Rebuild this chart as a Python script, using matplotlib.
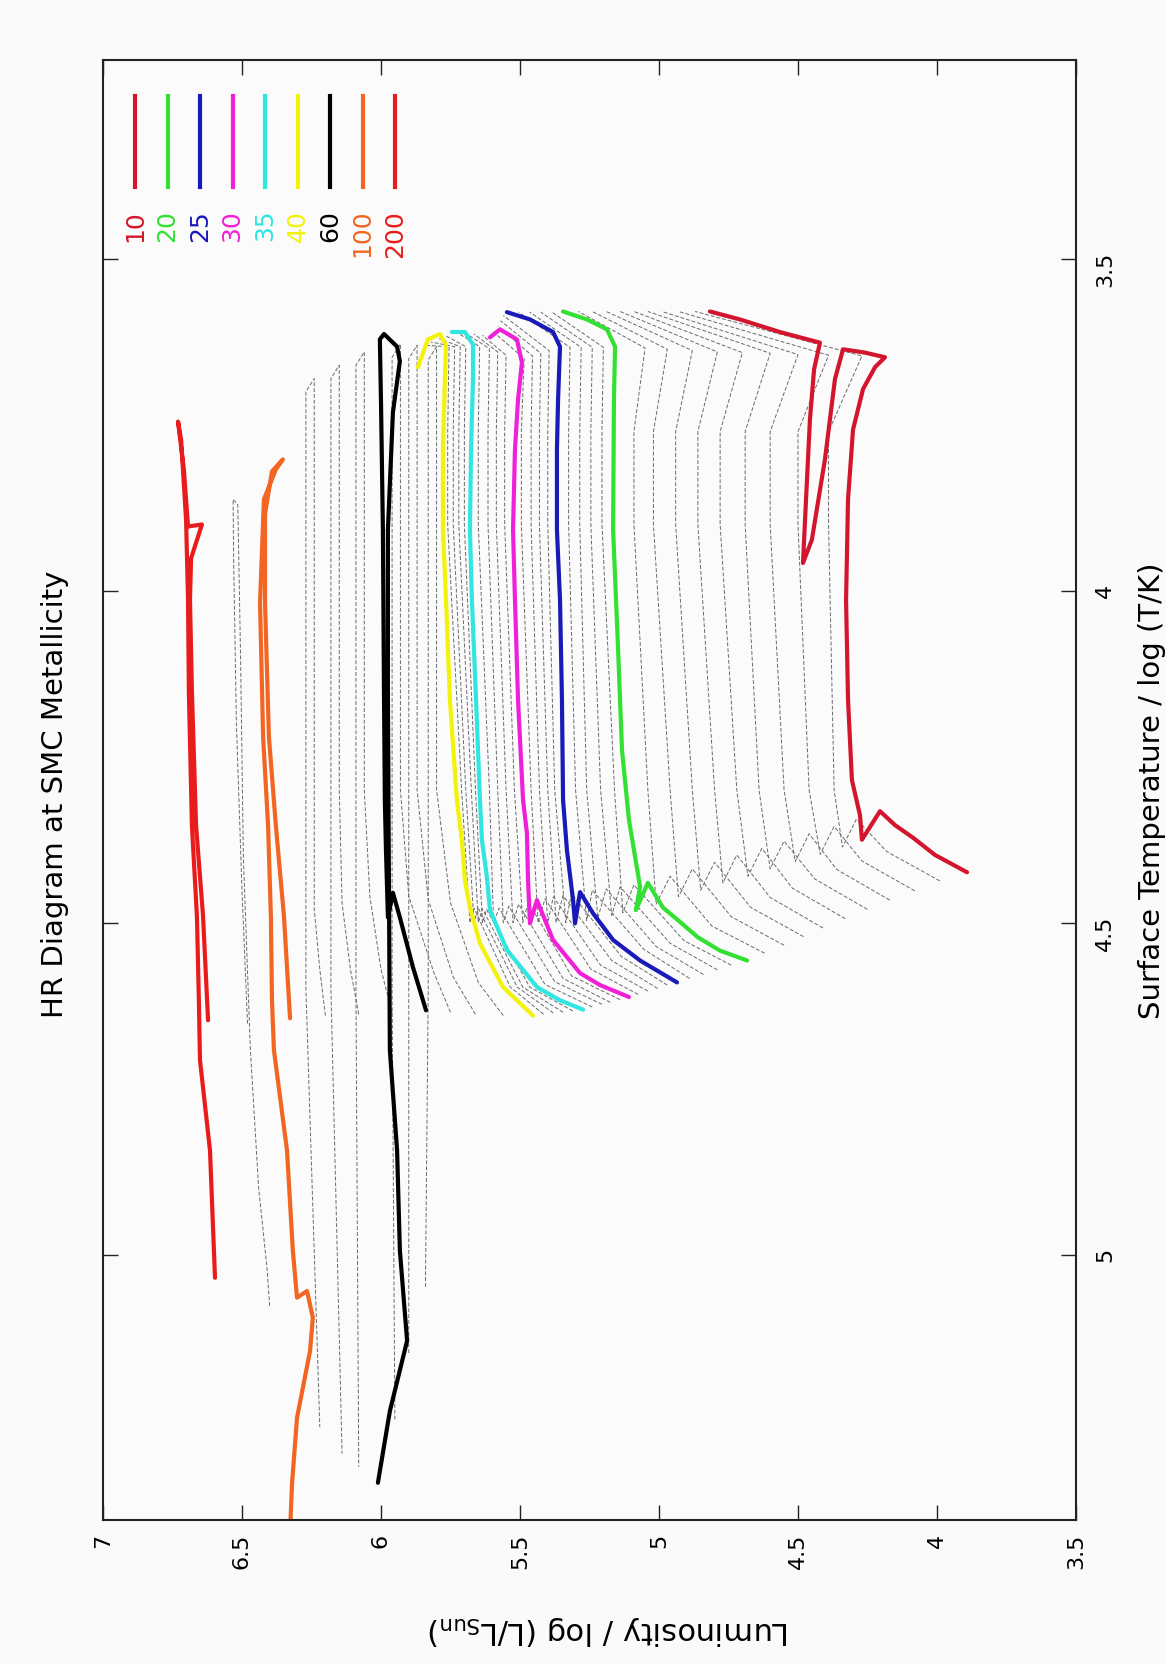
import matplotlib
matplotlib.use('Agg')
import matplotlib.pyplot as plt

plt.rcParams['font.family'] = ['DejaVu Sans']
plt.rcParams['mathtext.default'] = 'regular'

# axis ticks (luminosity runs along the page, temperature down the page)
lum_ticks = [7, 6.5, 6, 5.5, 5, 4.5, 4, 3.5]
lum_labels = ['7', '6.5', '6', '5.5', '5', '4.5', '4', '3.5']
temp_ticks = [3.5, 4, 4.5, 5]
temp_labels = ['3.5', '4', '4.5', '5']

# highlighted masses
masses = ['10', '20', '25', '30', '35', '40', '60', '100', '200']
colors = ['#d3152e', '#33e033', '#1a1ab8', '#f020d8', '#30e6e0',
          '#f2f20a', '#000000', '#f26522', '#e81c1c']

# highlighted tracks: log L, log T
trk10_L = [3.892, 4.007, 4.086, 4.151, 4.205, 4.270, 4.277, 4.306, 4.320, 4.327,
           4.320, 4.302, 4.266, 4.223, 4.187, 4.259, 4.338, 4.367, 4.403, 4.450,
           4.482, 4.471, 4.457, 4.442, 4.421, 4.565, 4.709, 4.817]
trk10_T = [4.424, 4.398, 4.372, 4.353, 4.332, 4.375, 4.338, 4.285, 4.164, 4.014,
           3.862, 3.757, 3.696, 3.663, 3.648, 3.641, 3.636, 3.681, 3.802, 3.923,
           3.958, 3.862, 3.742, 3.666, 3.626, 3.610, 3.591, 3.579]
trk20_L = [4.683, 4.781, 4.860, 4.924, 4.986, 5.040, 5.083, 5.068, 5.108, 5.133,
           5.147, 5.165, 5.162, 5.158, 5.187, 5.259, 5.345]
trk20_T = [4.557, 4.542, 4.522, 4.499, 4.477, 4.440, 4.481, 4.446, 4.345, 4.240,
           4.089, 3.908, 3.712, 3.632, 3.606, 3.591, 3.579]
trk25_L = [4.935, 5.068, 5.165, 5.237, 5.284, 5.302, 5.309, 5.331, 5.345, 5.349,
           5.356, 5.367, 5.367, 5.363, 5.356, 5.381, 5.464, 5.547]
trk25_T = [4.590, 4.557, 4.526, 4.486, 4.454, 4.501, 4.466, 4.391, 4.315, 4.164,
           4.013, 3.908, 3.787, 3.712, 3.632, 3.610, 3.591, 3.580]
trk30_L = [5.108, 5.212, 5.284, 5.381, 5.439, 5.464, 5.471, 5.475, 5.489, 5.507,
           5.518, 5.525, 5.518, 5.507, 5.493, 5.511, 5.572, 5.608]
trk30_T = [4.612, 4.594, 4.576, 4.526, 4.466, 4.501, 4.436, 4.365, 4.315, 4.164,
           4.013, 3.908, 3.787, 3.712, 3.656, 3.621, 3.606, 3.618]
trk35_L = [5.273, 5.356, 5.439, 5.547, 5.608, 5.619, 5.637, 5.644, 5.658, 5.673,
           5.680, 5.676, 5.669, 5.669, 5.698, 5.745]
trk35_T = [4.631, 4.617, 4.597, 4.541, 4.481, 4.431, 4.375, 4.315, 4.164, 4.013,
           3.908, 3.787, 3.681, 3.629, 3.610, 3.610]
trk40_L = [5.453, 5.561, 5.644, 5.680, 5.698, 5.709, 5.727, 5.752, 5.766, 5.777,
           5.777, 5.770, 5.766, 5.788, 5.831, 5.867]
trk40_T = [4.640, 4.597, 4.531, 4.477, 4.436, 4.375, 4.315, 4.164, 4.013, 3.908,
           3.787, 3.681, 3.629, 3.613, 3.621, 3.663]
trk60_L = [5.838, 5.885, 5.932, 5.957, 5.975, 5.982, 5.986, 5.989, 5.993, 6.000,
           6.004, 5.989, 5.942, 5.932, 5.957, 5.975, 5.975, 5.971, 5.968, 5.942,
           5.932, 5.906, 5.968, 6.011]
trk60_T = [4.632, 4.567, 4.492, 4.455, 4.492, 4.391, 4.315, 4.164, 3.908, 3.712,
           3.621, 3.613, 3.632, 3.654, 3.731, 3.908, 4.164, 4.466, 4.692, 4.843,
           4.994, 5.130, 5.236, 5.344]
trk100_L = [6.327, 6.349, 6.378, 6.403, 6.417, 6.417, 6.392, 6.353, 6.378, 6.421,
            6.435, 6.424, 6.406, 6.396, 6.392, 6.385, 6.338, 6.317, 6.302, 6.266,
            6.245, 6.255, 6.302, 6.320, 6.327]
trk100_T = [4.644, 4.490, 4.354, 4.220, 4.018, 3.884, 3.820, 3.802, 3.817, 3.862,
            4.018, 4.220, 4.354, 4.490, 4.617, 4.692, 4.843, 4.994, 5.065, 5.055,
            5.095, 5.145, 5.246, 5.346, 5.417]
trk200_L = [6.622, 6.640, 6.665, 6.680, 6.687, 6.683, 6.644, 6.694, 6.709, 6.730,
            6.719, 6.701, 6.694, 6.691, 6.680, 6.662, 6.655, 6.651, 6.615, 6.597]
trk200_T = [4.647, 4.490, 4.354, 4.152, 4.013, 3.951, 3.900, 3.903, 3.817, 3.745,
            3.772, 3.893, 4.013, 4.152, 4.354, 4.490, 4.617, 4.707, 4.843, 5.035]

tracks_L = [trk10_L, trk20_L, trk25_L, trk30_L, trk35_L, trk40_L, trk60_L, trk100_L, trk200_L]
tracks_T = [trk10_T, trk20_T, trk25_T, trk30_T, trk35_T, trk40_T, trk60_T, trk100_T, trk200_T]

# grey tracks 11-19, 21-24, 26-29, 31-34, 36-39 Msun
# zams -> mid main sequence -> hook -> dip -> crossing -> top corner -> end
g_zL = [3.99, 4.08, 4.17, 4.25, 4.33, 4.41, 4.48, 4.55, 4.62,
        4.74, 4.79, 4.84, 4.89, 4.97, 5.005, 5.04, 5.075,
        5.14, 5.175, 5.205, 5.24, 5.31, 5.345, 5.38, 5.415]
g_zT = [4.437, 4.452, 4.466, 4.48, 4.494, 4.508, 4.521, 4.534, 4.546,
        4.564, 4.571, 4.578, 4.584, 4.594, 4.599, 4.603, 4.608,
        4.616, 4.62, 4.623, 4.627, 4.633, 4.635, 4.636, 4.638]
g_mL = [4.18, 4.27, 4.36, 4.44, 4.52, 4.60, 4.67, 4.74, 4.81,
        4.91, 4.96, 5.01, 5.055, 5.135, 5.17, 5.21, 5.245,
        5.315, 5.345, 5.375, 5.41, 5.465, 5.49, 5.51, 5.535]
g_mT = [4.393, 4.407, 4.42, 4.434, 4.448, 4.462, 4.477, 4.491, 4.505,
        4.527, 4.531, 4.536, 4.54, 4.551, 4.557, 4.564, 4.57,
        4.58, 4.584, 4.589, 4.593, 4.597, 4.597, 4.597, 4.597]
g_hL = [4.29, 4.37, 4.46, 4.55, 4.63, 4.72, 4.80, 4.88, 4.96,
        5.09, 5.14, 5.19, 5.24, 5.315, 5.345, 5.38, 5.41,
        5.47, 5.505, 5.54, 5.575, 5.62, 5.635, 5.65, 5.665]
g_hT = [4.344, 4.355, 4.366, 4.377, 4.388, 4.398, 4.409, 4.419, 4.43,
        4.443, 4.446, 4.449, 4.451, 4.456, 4.459, 4.461, 4.464,
        4.469, 4.472, 4.475, 4.478, 4.48, 4.479, 4.478, 4.478]
g_dL = [4.34, 4.42, 4.51, 4.60, 4.68, 4.77, 4.85, 4.93, 5.01,
        5.13, 5.17, 5.22, 5.26, 5.335, 5.37, 5.40, 5.435,
        5.49, 5.525, 5.56, 5.595, 5.635, 5.65, 5.665, 5.68]
g_dT = [4.386, 4.397, 4.408, 4.419, 4.43, 4.44, 4.451, 4.461, 4.472,
        4.485, 4.489, 4.493, 4.497, 4.5, 4.5, 4.5, 4.5,
        4.5, 4.5, 4.5, 4.5, 4.5, 4.5, 4.5, 4.5]
g_c1L = [4.37, 4.46, 4.55, 4.64, 4.72, 4.80, 4.88, 4.96, 5.04,
         5.16, 5.21, 5.26, 5.30, 5.375, 5.40, 5.43, 5.46,
         5.52, 5.55, 5.58, 5.61, 5.66, 5.675, 5.695, 5.71]
g_c2L = [4.39, 4.50, 4.60, 4.69, 4.78, 4.86, 4.94, 5.02, 5.09,
         5.205, 5.245, 5.285, 5.325, 5.40, 5.43, 5.46, 5.495,
         5.555, 5.585, 5.615, 5.65, 5.70, 5.72, 5.74, 5.76]
g_kL = [4.27, 4.39, 4.50, 4.60, 4.70, 4.79, 4.88, 4.97, 5.05,
        5.20, 5.24, 5.28, 5.32, 5.395, 5.425, 5.455, 5.485,
        5.55, 5.58, 5.61, 5.645, 5.695, 5.715, 5.735, 5.755]
g_kT = [3.646, 3.645, 3.644, 3.642, 3.641, 3.64, 3.638, 3.636, 3.634,
        3.633, 3.633, 3.633, 3.633, 3.638, 3.642, 3.646, 3.65,
        3.645, 3.64, 3.635, 3.632, 3.632, 3.632, 3.632, 3.632]
g_eL = [4.87, 4.93, 4.99, 5.04, 5.09, 5.14, 5.19, 5.24, 5.29,
        5.385, 5.425, 5.465, 5.505, 5.56, 5.57, 5.58, 5.595,
        5.635, 5.665, 5.695, 5.725, 5.77, 5.79, 5.82, 5.845]
g_eT = [3.579, 3.579, 3.579, 3.579, 3.579, 3.579, 3.579, 3.579, 3.579,
        3.58, 3.58, 3.58, 3.58, 3.585, 3.593, 3.601, 3.61,
        3.615, 3.613, 3.612, 3.611, 3.615, 3.62, 3.625, 3.63]
cross_T = [4.30, 3.90, 3.76]

# grey tracks 45, 50, 55, 70, 80, 90 Msun: out to the red side and back to WR stage
w_zL = [5.56, 5.66, 5.75, 5.96, 6.08, 6.20]
w_zT = [4.64, 4.638, 4.635, 4.636, 4.638, 4.64]
w_mL = [5.65, 5.74, 5.81, 6.00, 6.11, 6.22]
w_mT = [4.59, 4.582, 4.575, 4.57, 4.57, 4.57]
w_hL = [5.75, 5.83, 5.90, 6.04, 6.14, 6.24]
w_hT = [4.47, 4.465, 4.46, 4.46, 4.47, 4.48]
w_cL = [5.80, 5.87, 5.93, 6.06, 6.15, 6.24]
w_tT = [3.632, 3.63, 3.628, 3.64, 3.66, 3.68]
w_rL = [5.83, 5.90, 5.96, 6.09, 6.18, 6.27]
w_rT = [3.652, 3.65, 3.648, 3.66, 3.68, 3.70]
w_endL = [5.84, 5.90, 5.95, 6.08, 6.14, 6.22]
w_endT = [5.05, 5.15, 5.25, 5.32, 5.30, 5.26]
w_cross_T = [4.30, 3.90, 4.60]

# grey track 150 Msun
g150_L = [6.48, 6.50, 6.52, 6.53, 6.532, 6.515, 6.505, 6.495, 6.47, 6.44, 6.41, 6.40]
g150_T = [4.652, 4.45, 4.2, 3.95, 3.862, 3.87, 4.1, 4.4, 4.69, 4.9, 5.02, 5.08]

fig = plt.figure(figsize=(11.66, 16.65), dpi=100, facecolor='#fafafa')
ax = fig.add_axes([0.0883, 0.0865, 0.8345, 0.8769], facecolor='#fbfbfb')

grey = dict(color='#6a6a6a', lw=0.7, linestyle=(0, (4, 2)))

for i in range(len(g_zL)):
    L = [g_zL[i], g_mL[i], g_hL[i], g_dL[i], g_c1L[i], g_c2L[i], g_c2L[i], g_kL[i], g_eL[i]]
    T = [g_zT[i], g_mT[i], g_hT[i], g_dT[i], cross_T[0], cross_T[1], cross_T[2], g_kT[i], g_eT[i]]
    ax.plot(L, T, **grey)

for i in range(len(w_zL)):
    L = [w_zL[i], w_mL[i], w_hL[i], w_cL[i], w_cL[i], w_cL[i], w_rL[i], w_rL[i], w_rL[i], w_endL[i]]
    T = [w_zT[i], w_mT[i], w_hT[i], w_cross_T[0], w_cross_T[1], w_tT[i], w_rT[i],
         w_cross_T[1], w_cross_T[2], w_endT[i]]
    ax.plot(L, T, **grey)

ax.plot(g150_L, g150_T, **grey)

for L, T, c in zip(tracks_L, tracks_T, colors):
    ax.plot(L, T, color=c, lw=3.0, solid_capstyle='round', solid_joinstyle='round')

ax.set_xlim(7, 3.5)
ax.set_ylim(5.4, 3.2)
ax.set_xticks(lum_ticks)
ax.set_xticklabels(lum_labels)
ax.set_yticks(temp_ticks)
ax.set_yticklabels(temp_labels)
ax.tick_params(axis='both', direction='in', length=11, width=1.0, color='#222222',
               top=True, right=True, left=True, bottom=True)
ax.tick_params(axis='x', labelrotation=90, labelsize=16, pad=9)
ax.tick_params(axis='y', labelrotation=90, labelsize=16, pad=14,
               labelleft=False, labelright=True)
for s in ax.spines.values():
    s.set_linewidth(1.5)
    s.set_color('#222222')

ax.set_xlabel('Luminosity / log (L/L$_{Sun}$)', fontsize=22, rotation=180)
ax.xaxis.label.set_va('center')
ax.xaxis.set_label_coords(0.52, -0.0747)
ax.yaxis.set_label_position('right')
ax.set_ylabel('Surface Temperature / log (T/K)', fontsize=21, rotation=90)
ax.yaxis.label.set_va('center')
ax.yaxis.set_label_coords(1.078, 0.5)
fig.text(0.0472, 0.523, 'HR Diagram at SMC Metallicity', fontsize=21,
         rotation=90, ha='center', va='center')

# legend laid out along the top edge, one column per mass
for i, (m, c) in enumerate(zip(masses, colors)):
    x = 0.033 + i * 0.0334
    ax.plot([x, x], [0.913, 0.9753], transform=ax.transAxes, color=c, lw=3.0)
    ax.text(x, 0.898, m, transform=ax.transAxes, rotation=90, ha='center', va='top',
            color=c, fontsize=18)

fig.savefig('out.png', dpi=100, facecolor=fig.get_facecolor())
